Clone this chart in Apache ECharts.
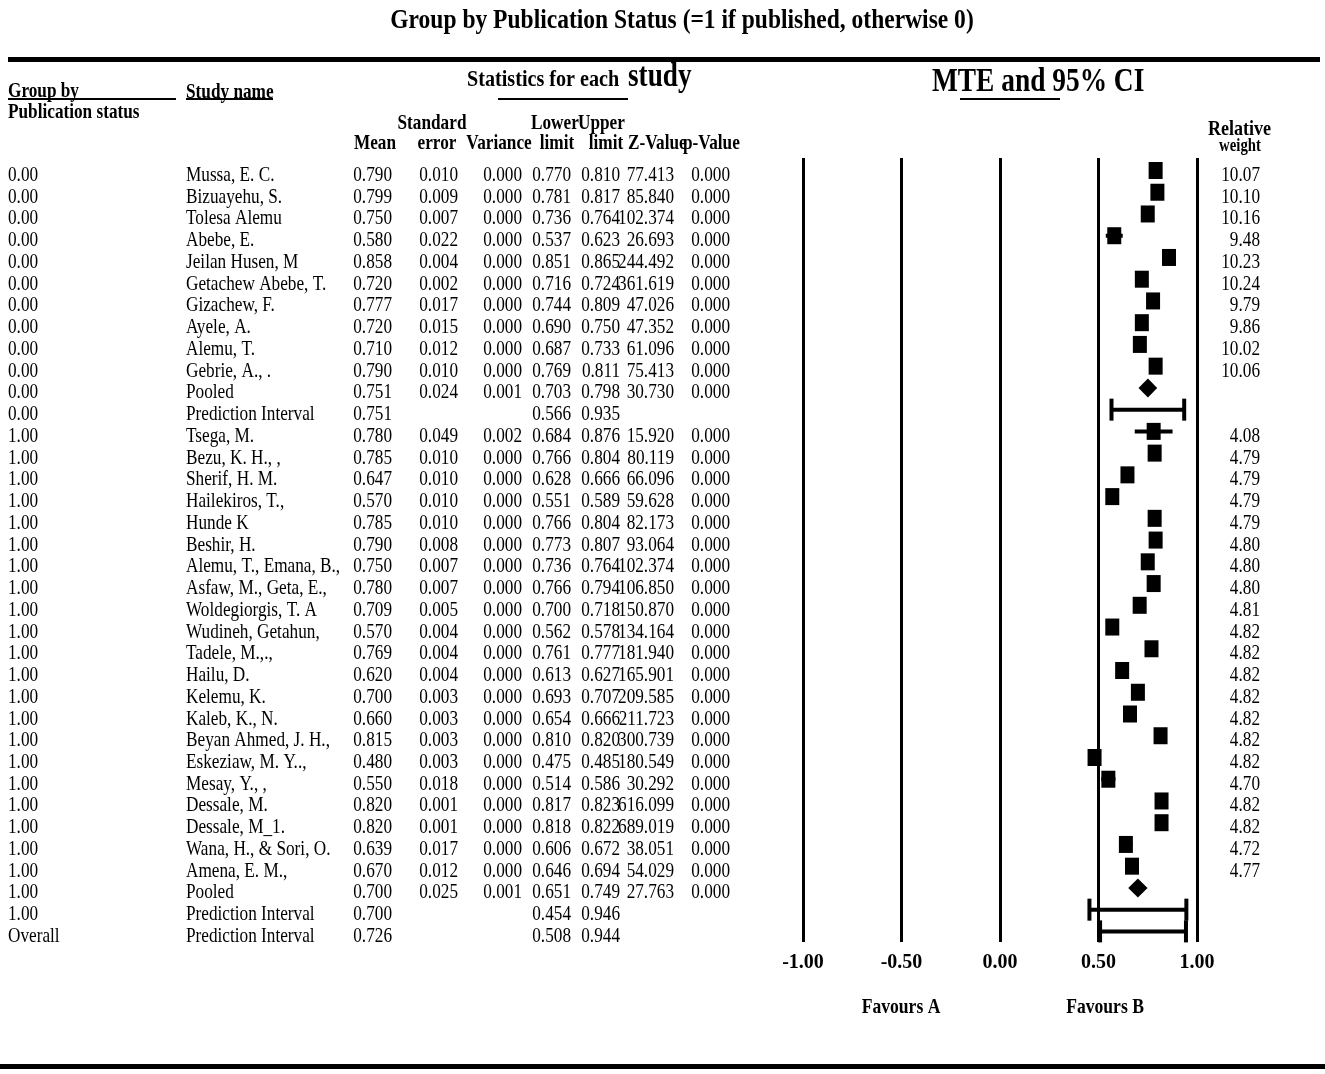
<!DOCTYPE html>
<html><head><meta charset="utf-8">
<script src="https://cdn.jsdelivr.net/npm/echarts@6/dist/echarts.min.js"></script>
<style>html,body{margin:0;padding:0;background:#fff}#c{width:1325px;height:1074px}</style>
</head><body><div id="c"></div>
<script>
// ---------------- DATA ----------------
const groupCol = ['0.00','0.00','0.00','0.00','0.00','0.00','0.00','0.00','0.00','0.00','0.00','0.00',
  '1.00','1.00','1.00','1.00','1.00','1.00','1.00','1.00','1.00','1.00','1.00','1.00','1.00','1.00','1.00','1.00','1.00','1.00','1.00','1.00','1.00','1.00','1.00',
  'Overall'];
const studyNames = ["Mussa, E. C.","Bizuayehu, S.","Tolesa Alemu","Abebe, E.","Jeilan Husen, M","Getachew Abebe, T.","Gizachew, F.","Ayele, A.","Alemu, T.","Gebrie, A., .","Pooled","Prediction Interval",
  "Tsega, M.","Bezu, K. H., ,","Sherif, H. M.","Hailekiros, T.,","Hunde K","Beshir, H.","Alemu, T., Emana, B.,","Asfaw, M., Geta, E.,","Woldegiorgis, T. A","Wudineh, Getahun,","Tadele, M.,.,","Hailu, D.","Kelemu, K.","Kaleb, K., N.","Beyan Ahmed, J. H.,","Eskeziaw, M. Y..,","Mesay, Y., ,","Dessale, M.","Dessale, M_1.","Wana, H., & Sori, O.","Amena, E. M.,","Pooled","Prediction Interval",
  "Prediction Interval"];
const rowTypes = ['study','study','study','study','study','study','study','study','study','study','pooled','pi',
  'study','study','study','study','study','study','study','study','study','study','study','study','study','study','study','study','study','study','study','study','study','pooled','pi',
  'pi'];
const means = [0.790,0.799,0.750,0.580,0.858,0.720,0.777,0.720,0.710,0.790,0.751,0.751,
  0.780,0.785,0.647,0.570,0.785,0.790,0.750,0.780,0.709,0.570,0.769,0.620,0.700,0.660,0.815,0.480,0.550,0.820,0.820,0.639,0.670,0.700,0.700,
  0.726];
const stdErrors = [0.010,0.009,0.007,0.022,0.004,0.002,0.017,0.015,0.012,0.010,0.024,null,
  0.049,0.010,0.010,0.010,0.010,0.008,0.007,0.007,0.005,0.004,0.004,0.004,0.003,0.003,0.003,0.003,0.018,0.001,0.001,0.017,0.012,0.025,null,
  null];
const variances = [0.000,0.000,0.000,0.000,0.000,0.000,0.000,0.000,0.000,0.000,0.001,null,
  0.002,0.000,0.000,0.000,0.000,0.000,0.000,0.000,0.000,0.000,0.000,0.000,0.000,0.000,0.000,0.000,0.000,0.000,0.000,0.000,0.000,0.001,null,
  null];
const lowerLimits = [0.770,0.781,0.736,0.537,0.851,0.716,0.744,0.690,0.687,0.769,0.703,0.566,
  0.684,0.766,0.628,0.551,0.766,0.773,0.736,0.766,0.700,0.562,0.761,0.613,0.693,0.654,0.810,0.475,0.514,0.817,0.818,0.606,0.646,0.651,0.454,
  0.508];
const upperLimits = [0.810,0.817,0.764,0.623,0.865,0.724,0.809,0.750,0.733,0.811,0.798,0.935,
  0.876,0.804,0.666,0.589,0.804,0.807,0.764,0.794,0.718,0.578,0.777,0.627,0.707,0.666,0.820,0.485,0.586,0.823,0.822,0.672,0.694,0.749,0.946,
  0.944];
const zValues = [77.413,85.840,102.374,26.693,244.492,361.619,47.026,47.352,61.096,75.413,30.730,null,
  15.920,80.119,66.096,59.628,82.173,93.064,102.374,106.850,150.870,134.164,181.940,165.901,209.585,211.723,300.739,180.549,30.292,616.099,689.019,38.051,54.029,27.763,null,
  null];
const pValues = [0.000,0.000,0.000,0.000,0.000,0.000,0.000,0.000,0.000,0.000,0.000,null,
  0.000,0.000,0.000,0.000,0.000,0.000,0.000,0.000,0.000,0.000,0.000,0.000,0.000,0.000,0.000,0.000,0.000,0.000,0.000,0.000,0.000,0.000,null,
  null];
const weights = [10.07,10.10,10.16,9.48,10.23,10.24,9.79,9.86,10.02,10.06,null,null,
  4.08,4.79,4.79,4.79,4.79,4.80,4.80,4.80,4.81,4.82,4.82,4.82,4.82,4.82,4.82,4.82,4.70,4.82,4.82,4.72,4.77,null,null,
  null];
const axisMin = -1, axisMax = 1, axisStep = 0.5;

// ---------------- LAYOUT / STYLE ----------------
const SERIF = '"Liberation Serif", "Times New Roman", serif';
const BODY_SIZE = 21, BODY_SX = 0.82;
const COLS = [
  {x: 8, align: 'left'}, {x: 186, align: 'left'}, {x: 392, align: 'right'}, {x: 458, align: 'right'},
  {x: 522, align: 'right'}, {x: 571, align: 'right'}, {x: 620, align: 'right'}, {x: 674, align: 'right'},
  {x: 730, align: 'right'}, {x: 1260, align: 'right'}
];
const NROWS = studyNames.length;
const ROW_H = 21.74;
const TABLE_Y0 = 175.5;   // text centre of first row
const FOREST_Y0 = 170.5;  // marker centre of first row
const F_TOP = 158, F_BOTTOM = 942;

function fmt(v, d) { return v == null ? '' : v.toFixed(d); }

function gtext(x, y, text, size, opts) {
  opts = opts || {};
  return {
    type: 'text', x: x, y: y, scaleX: opts.sx || 0.82, silent: true,
    style: {
      text: text, x: 0, y: 0, align: opts.align || 'left', verticalAlign: 'middle',
      fontFamily: SERIF, fontSize: size, fontWeight: opts.bold === false ? 'normal' : 'bold', fill: '#000'
    }
  };
}
function grect(x, y, w, h) {
  return {type: 'rect', shape: {x: x, y: y, width: w, height: h}, style: {fill: '#000'}, silent: true};
}

const chart = echarts.init(document.getElementById('c'), null, {renderer: 'canvas'});

const tableTop = TABLE_Y0 - ROW_H / 2;
const forestMin = -(FOREST_Y0 - F_TOP) / ROW_H;
const forestMax = (F_BOTTOM - FOREST_Y0) / ROW_H;

const option = {
  animation: false,
  backgroundColor: '#fff',
  grid: [
    {left: 0, width: 1325, top: tableTop, height: NROWS * ROW_H},
    {left: 803, right: 1325 - 1197, top: F_TOP, height: F_BOTTOM - F_TOP}
  ],
  xAxis: [
    {gridIndex: 0, type: 'value', min: 0, max: 1325, show: false},
    {gridIndex: 1, type: 'value', min: axisMin, max: axisMax, interval: axisStep,
     axisLine: {show: false}, axisTick: {show: false},
     splitLine: {show: true, showMinLine: true, showMaxLine: true, lineStyle: {color: '#000', width: 3}},
     axisLabel: {margin: 11, fontFamily: SERIF, fontWeight: 'bold', fontSize: 20, color: '#000',
       formatter: v => v.toFixed(2)}}
  ],
  yAxis: [
    {gridIndex: 0, type: 'value', min: -0.5, max: NROWS - 0.5, inverse: true, show: false},
    {gridIndex: 1, type: 'value', min: forestMin, max: forestMax, inverse: true, show: false}
  ],
  graphic: {elements: [
    gtext(682, 21, 'Group by Publication Status (=1 if published, otherwise 0)', 28, {align: 'center', sx: 0.84}),
    grect(8, 57, 1312, 5),
    grect(0, 1064, 1325, 5),
    gtext(8, 92, 'Group by', 21),
    grect(8, 98, 168, 2),
    gtext(8, 113, 'Publication status', 21),
    gtext(186, 93, 'Study name', 21),
    grect(186, 98, 87, 2),
    gtext(467, 80, 'Statistics for each', 24, {sx: 0.84}),
    gtext(628, 77, 'study', 34, {sx: 0.8}),
    grect(498, 98, 130, 2),
    gtext(932, 82, 'MTE and 95% CI', 33, {sx: 0.83}),
    grect(960, 98, 100, 2),
    gtext(432, 124, 'Standard', 21, {align: 'center'}),
    gtext(531, 124, 'Lower', 21),
    gtext(578, 124, 'Upper', 21),
    gtext(375, 144, 'Mean', 21, {align: 'center'}),
    gtext(437, 144, 'error', 21, {align: 'center'}),
    gtext(499, 144, 'Variance', 21, {align: 'center'}),
    gtext(557, 144, 'limit', 21, {align: 'center'}),
    gtext(606, 144, 'limit', 21, {align: 'center'}),
    gtext(628, 144, 'Z-Value', 21),
    gtext(683, 144, 'p-Value', 21),
    gtext(1208, 129, 'Relative', 22),
    gtext(1240, 146, 'weight', 18, {align: 'center'}),
    gtext(901, 1007, 'Favours A', 22, {align: 'center', sx: 0.8}),
    gtext(1105, 1007, 'Favours B', 22, {align: 'center', sx: 0.8})
  ]},
  series: [
    {
      type: 'custom', xAxisIndex: 0, yAxisIndex: 0, silent: true, clip: false,
      data: studyNames.map((n, i) => [0, i]),
      renderItem: function (params, api) {
        const i = api.value(1);
        const cells = [groupCol[i], studyNames[i], fmt(means[i], 3), fmt(stdErrors[i], 3), fmt(variances[i], 3),
          fmt(lowerLimits[i], 3), fmt(upperLimits[i], 3), fmt(zValues[i], 3), fmt(pValues[i], 3), fmt(weights[i], 2)];
        const children = [];
        COLS.forEach((c, k) => {
          if (!cells[k]) return;
          const p = api.coord([c.x, i]);
          children.push({
            type: 'text', x: p[0], y: p[1], scaleX: BODY_SX,
            style: {text: cells[k], x: 0, y: 0, align: c.align, verticalAlign: 'middle',
              fontFamily: SERIF, fontSize: BODY_SIZE, fill: '#000'}
          });
        });
        return {type: 'group', children: children};
      }
    },
    {
      type: 'custom', xAxisIndex: 1, yAxisIndex: 1, silent: true, clip: false,
      data: means.map((m, i) => [m, i, lowerLimits[i], upperLimits[i], rowTypes[i] === 'study' ? 0 : (rowTypes[i] === 'pooled' ? 1 : 2)]),
      encode: {x: [0, 2, 3], y: 1},
      renderItem: function (params, api) {
        const m = api.value(0), i = api.value(1), lo = api.value(2), hi = api.value(3), t = api.value(4);
        const c = api.coord([m, i]), l = api.coord([lo, i]), h = api.coord([hi, i]);
        const y = c[1];
        const children = [];
        if (t === 0) {
          children.push({type: 'rect', shape: {x: l[0], y: y - 2, width: h[0] - l[0], height: 4}, style: {fill: '#000'}});
          children.push({type: 'rect', shape: {x: c[0] - 7, y: y - 8.5, width: 14, height: 17}, style: {fill: '#000'}});
        } else if (t === 1) {
          children.push({type: 'polygon', shape: {points: [[l[0], y], [c[0], y - 9.5], [h[0], y], [c[0], y + 9.5]]}, style: {fill: '#000'}});
        } else {
          children.push({type: 'rect', shape: {x: l[0], y: y - 2, width: h[0] - l[0], height: 4}, style: {fill: '#000'}});
          children.push({type: 'rect', shape: {x: l[0] - 2, y: y - 11, width: 4, height: 22}, style: {fill: '#000'}});
          children.push({type: 'rect', shape: {x: h[0] - 2, y: y - 11, width: 4, height: 22}, style: {fill: '#000'}});
        }
        return {type: 'group', children: children};
      }
    }
  ]
};
chart.setOption(option);
</script>
</body></html>
